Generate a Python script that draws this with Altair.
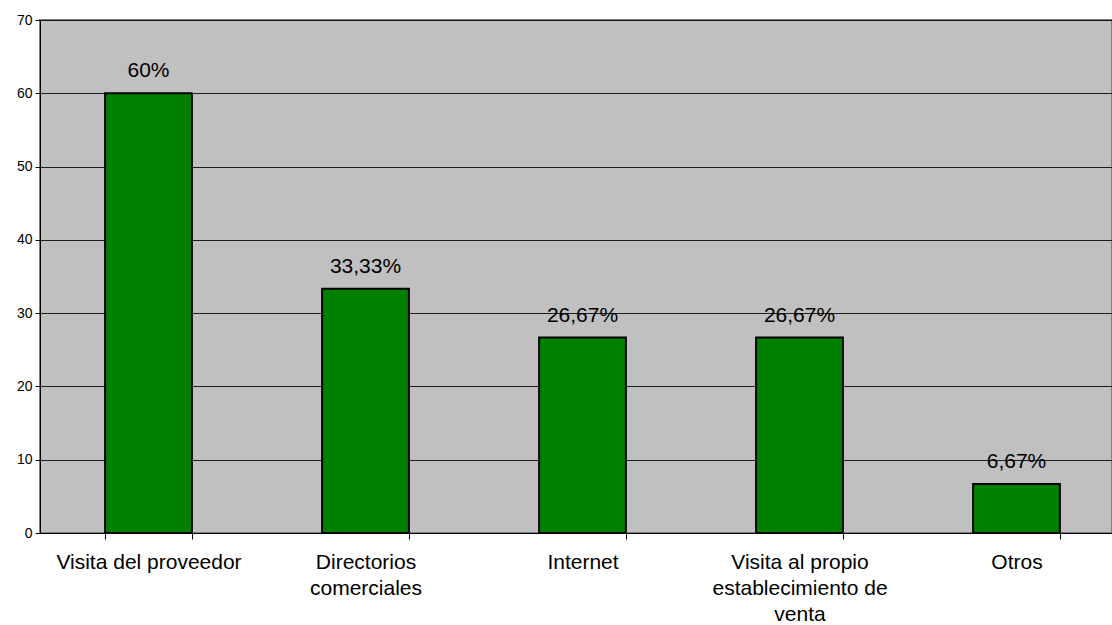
import altair as alt
import pandas as pd

categories = ["Visita del proveedor", "Directorios|comerciales", "Internet",
              "Visita al propio|establecimiento de|venta", "Otros"]
values = [60, 33.33, 26.67, 26.67, 6.67]
labels = ["60%", "33,33%", "26,67%", "26,67%", "6,67%"]

df = pd.DataFrame({"cat": categories, "val": values, "lab": labels})

FONT = "Liberation Sans"

x = alt.X("cat:N", sort=categories, title=None,
          scale=alt.Scale(paddingInner=0.6, paddingOuter=0.3, range=[0, 1085]),
          axis=alt.Axis(labelAngle=0, labelExpr="split(datum.label, '|')",
                        labelFontSize=21, labelFont=FONT, labelColor="#000",
                        labelPadding=12, labelLineHeight=26,
                        tickBand="extent", tickSize=6, tickColor="#000",
                        domainColor="#000", grid=False, labelLimit=400))
y = alt.Y("val:Q", title=None,
          scale=alt.Scale(domain=[0, 70], nice=False),
          axis=alt.Axis(values=list(range(0, 71, 10)), labelFontSize=14,
                        labelFont=FONT, labelColor="#000", tickSize=5,
                        tickColor="#000", domainColor="#000",
                        gridColor="#000", gridOpacity=0.85, gridWidth=1,
                        labelPadding=3))

bars = alt.Chart(df).mark_bar(color="#008000", stroke="#000", strokeWidth=2).encode(x=x, y=y)
text = alt.Chart(df).mark_text(baseline="alphabetic", dy=-16, fontSize=21, font=FONT, color="#000").encode(
    x=alt.X("cat:N", sort=categories), y="val:Q", text="lab:N")

chart = (bars + text).properties(
    width=1072, height=513,
    autosize=alt.AutoSizeParams(type="none"),
    padding={"left": 40, "top": 20, "right": 0, "bottom": 92},
    background="#ffffff",
).configure_view(fill="#c0c0c0", stroke="#808080", strokeWidth=2)

chart.save("out.html", embed_options={"renderer": "svg", "actions": False})
